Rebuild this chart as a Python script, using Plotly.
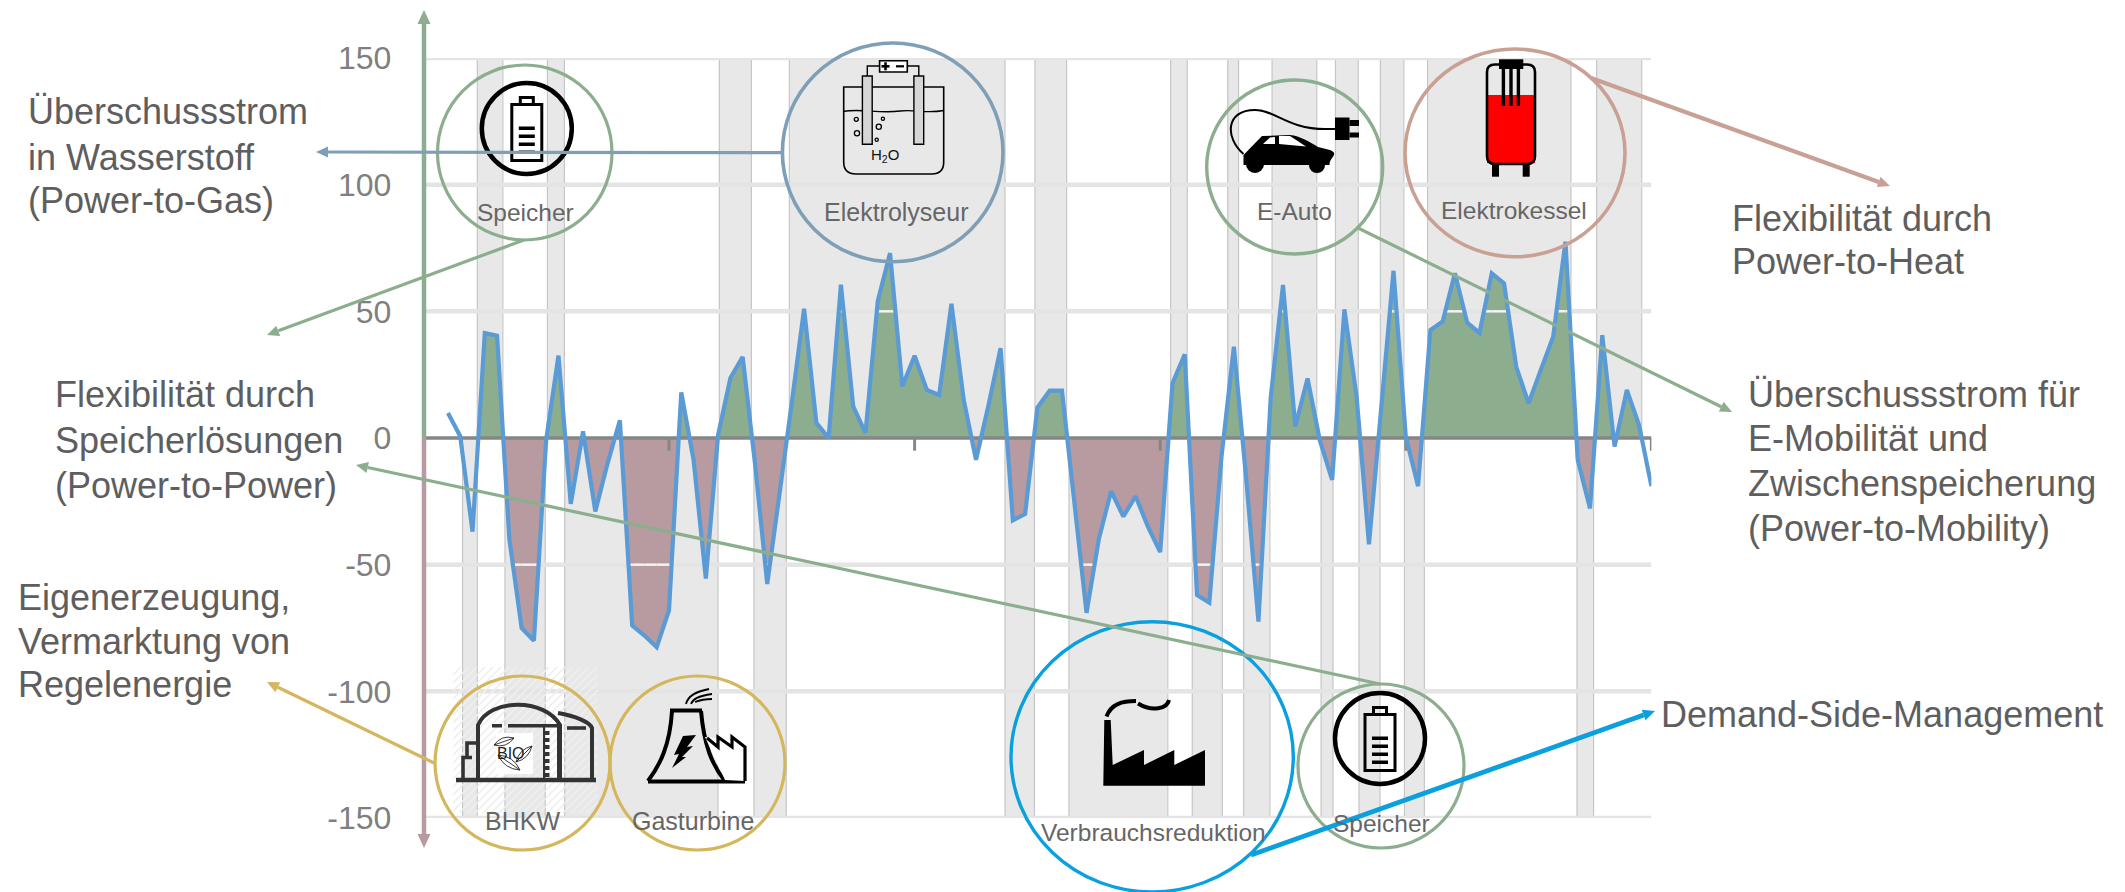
import numpy as np
import plotly.graph_objects as go

# Residual load per hour (hour 2 to hour 100)
hours = list(range(2, 101))
residual = [
    9.9, 0.7, -37, 41.4, 40.4, -40, -75, -80, -0.6, 32.5,
    -26, 2.6, -29, -10, 7, -74, -78, -82.6, -68, 18,
    -8.6, -55.5, 1.3, 23.7, 32, -10, -57.6, -22, 14, 51,
    6, 0, 60.5, 12.5, 2, 54, 73, 20.4, 32.5, 19,
    17, 53, 15, -8.6, 12.5, 35.5, -32.5, -30, 12, 18.7,
    18.7, -25, -69, -40, -21, -31, -23, -35, -45, 21.6,
    33, -62, -65, -7, 36, -16, -72.5, 16, 60.4, 4.5,
    23.5, -1, -16.5, 50.8, 16, -42, 12, 66, 0.5, -19,
    42.6, 46, 65, 45.5, 41.5, 65, 61, 28, 13.7, 27,
    40, 77.5, -8.7, -27.8, 40.6, -3.4, 19, 5, -19,
]

# Hour ranges of the surplus and deficit periods
surplus_periods = [
    (4.39, 6.47), (10.10, 11.48), (24.10, 26.71), (29.80, 47.36), (49.80, 52.38),
    (60.85, 62.20), (65.51, 66.38), (69.11, 72.75), (74.27, 76.13), (77.93, 79.84),
    (81.77, 93.45), (95.54, 99.21),
]
deficit_periods = [
    (3.19, 4.39), (6.64, 9.92), (11.51, 23.99), (26.92, 29.55), (47.36, 49.76),
    (52.57, 60.62), (62.61, 65.06), (66.80, 68.93), (73.10, 74.07), (76.19, 77.90),
    (79.89, 81.51), (93.94, 95.29),
]

y_ticks = [150, 100, 50, 0, -50, -100, -150]
y_labels = ["150", "100", "50", "0", "-50", "-100", "-150"]
x_ticks = [20, 40, 60, 80, 100]

WIDTH, HEIGHT = 2125, 892
GREEN = "#8CAE8E"
MAUVE = "#B89AA1"
STEEL = "#7F9FB6"
ROSE = "#C9A194"
GOLD = "#D4B65C"
CYAN = "#0AA0E0"
BAND = "#E8E8E8"
TEXT = "#5E5E5E"
LABEL = "#666666"
FONT = "Liberation Sans"


def with_crossings(xs, ys, level):
    """Return the polyline with extra vertices wherever it crosses level."""
    out_x, out_y = [xs[0]], [ys[0]]
    for x0, y0, x1, y1 in zip(xs, ys, xs[1:], ys[1:]):
        if (y0 - level) * (y1 - level) < 0:
            out_x.append(x0 + (level - y0) / (y1 - y0) * (x1 - x0))
            out_y.append(level)
        out_x.append(x1)
        out_y.append(y1)
    return np.array(out_x), np.array(out_y)


def beyond(xs, ys, level, sign):
    """Stretches of the line past level, as a gapped horizontal line."""
    px, py = with_crossings(xs, ys, level)
    seg_x, seg_y = [], []
    for x0, y0, x1, y1 in zip(px, py, px[1:], py[1:]):
        if sign * (y0 - level) >= 0 and sign * (y1 - level) >= 0:
            seg_x += [x0, x1, None]
            seg_y += [level, level, None]
    return seg_x, seg_y


fig = go.Figure()


def period_bars(periods, level):
    fig.add_bar(
        x=[(a + b) / 2 for a, b in periods],
        y=[level] * len(periods),
        width=[b - a for a, b in periods],
        marker=dict(color=BAND, line_width=0),
        hoverinfo="skip",
        showlegend=False,
    )
    edge_x, edge_y = [], []
    for period in periods:
        for edge in period:
            edge_x += [edge, edge, None]
            edge_y += [0, level, None]
    fig.add_scatter(x=edge_x, y=edge_y, mode="lines",
                    line=dict(color="#C6C6C6", width=1.2),
                    hoverinfo="skip", showlegend=False)


period_bars(surplus_periods, 150)
period_bars(deficit_periods, -150)

# Horizontal grid sits on the period columns
for tick in y_ticks:
    if tick != 0:
        fig.add_scatter(x=[0, 100], y=[tick, tick], mode="lines",
                        line=dict(color="#E4E4E4", width=4.5),
                        hoverinfo="skip", showlegend=False)

# Filled areas leave out the open first and last stretches of the line
line_x, line_y = with_crossings(hours, residual, 0.0)
zero_hits = np.where(line_y == 0.0)[0]
first, last = zero_hits[1], zero_hits[-1]
area_x = line_x[first:last + 1]
area_y = line_y[first:last + 1]
fig.add_scatter(x=area_x, y=np.maximum(area_y, 0), mode="lines", fill="tozeroy",
                fillcolor=GREEN, line=dict(width=0), hoverinfo="skip", showlegend=False)
fig.add_scatter(x=area_x, y=np.minimum(area_y, 0), mode="lines", fill="tozeroy",
                fillcolor=MAUVE, line=dict(width=0), hoverinfo="skip", showlegend=False)

# Grid remains visible as a pale stripe through the filled areas
for level, sign in ((50, 1), (-50, -1)):
    sx, sy = beyond(list(area_x), list(area_y), level, sign)
    fig.add_scatter(x=sx, y=sy, mode="lines", line=dict(color="#F4F4F4", width=2.5),
                    hoverinfo="skip", showlegend=False)

# Zero line with its hour ticks
fig.add_scatter(x=[0, 100], y=[0, 0], mode="lines", line=dict(color="#868686", width=3.5),
                hoverinfo="skip", showlegend=False)
tick_x, tick_y = [], []
for tick in x_ticks:
    tick_x += [tick, tick, None]
    tick_y += [0, -5, None]
fig.add_scatter(x=tick_x, y=tick_y, mode="lines", line=dict(color="#868686", width=3),
                hoverinfo="skip", showlegend=False)

fig.add_scatter(x=hours, y=residual, mode="lines",
                line=dict(color="#5B9BD5", width=4.2, simplify=False),
                hoverinfo="skip", showlegend=False)

# Pixel canvas spanning the whole page, used for the icons and callouts
fig.add_scatter(x=[0, WIDTH], y=[0, HEIGHT], xaxis="x2", yaxis="y2", mode="markers",
                marker=dict(opacity=0), hoverinfo="skip", showlegend=False)

shapes = []
notes = []


def stroke(path, color="#000000", width=3.0, fill=None):
    shapes.append(dict(type="path", path=path, xref="x2", yref="y2", layer="above",
                       line=dict(color=color, width=width),
                       fillcolor=fill if fill else "rgba(0,0,0,0)"))


def solid(path, color="#000000"):
    shapes.append(dict(type="path", path=path, xref="x2", yref="y2", layer="above",
                       line=dict(width=0), fillcolor=color))


def oval(x0, y0, x1, y1, color="#000000", width=3.0, fill=None):
    shapes.append(dict(type="circle", x0=x0, y0=y0, x1=x1, y1=y1, xref="x2", yref="y2",
                       layer="above", line=dict(color=color, width=width),
                       fillcolor=fill if fill else "rgba(0,0,0,0)"))


def box(x0, y0, x1, y1, color="#000000"):
    shapes.append(dict(type="rect", x0=x0, y0=y0, x1=x1, y1=y1, xref="x2", yref="y2",
                       layer="above", line=dict(width=0), fillcolor=color))


def poly(points):
    return "M " + " L ".join(f"{x:.1f} {y:.1f}" for x, y in points) + " Z"


def text(x, y, string, size=36, color=TEXT, anchor="left"):
    notes.append(dict(x=x, y=y, xref="x2", yref="y2", text=string, showarrow=False,
                      xanchor=anchor, yanchor="middle",
                      font=dict(family=FONT, size=size, color=color)))


def arrow(x0, y0, x1, y1, color, width=3.0, head=12.0, half=5.5):
    """Callout line ending in a small filled triangle at x1, y1."""
    length = np.hypot(x1 - x0, y1 - y0)
    ux, uy = (x1 - x0) / length, (y1 - y0) / length
    bx, by = x1 - ux * head, y1 - uy * head
    stroke(f"M {x0} {y0} L {bx:.1f} {by:.1f}", color, width)
    solid(poly([(x1, y1), (bx - uy * half, by + ux * half), (bx + uy * half, by - ux * half)]), color)


def leaf(x0, y0, x1, y1, bulge):
    """Outline of a leaf between two tips, with a midrib."""
    nx, ny = -(y1 - y0) * bulge, (x1 - x0) * bulge
    mx, my = (x0 + x1) / 2, (y0 + y1) / 2
    stroke(f"M {x0} {y0} Q {mx + nx:.1f} {my + ny:.1f} {x1} {y1} "
           f"Q {mx - nx:.1f} {my - ny:.1f} {x0} {y0} L {x1} {y1}", "#222222", 0.9)


def battery(cx, cy):
    oval(cx - 45, cy - 45.5, cx + 45, cy + 45.5, width=4.5)
    stroke(poly([(cx - 15, cy - 24), (cx + 15, cy - 24), (cx + 15, cy + 32), (cx - 15, cy + 32)]),
           width=3)
    stroke(poly([(cx - 6.5, cy - 31), (cx + 6.5, cy - 31), (cx + 6.5, cy - 24), (cx - 6.5, cy - 24)]),
           width=3)
    for dy in (0, 8, 16, 24):
        box(cx - 8, cy - 1.5 + dy - 0.5, cx + 8, cy + 2 + dy - 0.5)


# Hatched backdrop behind the CHP plant
hatch_left, hatch_right, hatch_top, hatch_bottom = 453, 598, 667, 813
hatch = []
for offset in range(hatch_left - 146, hatch_right, 8):
    x0, y0 = offset, hatch_bottom
    x1, y1 = offset + 146, hatch_top
    if x0 < hatch_left:
        y0 -= hatch_left - x0
        x0 = hatch_left
    if x1 > hatch_right:
        y1 += x1 - hatch_right
        x1 = hatch_right
    hatch.append(f"M {x0} {y0} L {x1} {y1}")
stroke(" ".join(hatch), color="#EFEFEF", width=1.6)

# Upper storage
oval(437.5, 65, 612, 240, GREEN, 3.2)
battery(526.8, 128.5)
text(525, 212, "Speicher", 24.5, LABEL, "center")

# Electrolyser
oval(782.4, 43, 1003, 261.7, STEEL, 3.6)
stroke("M 843.7 87 L 843.7 162 Q 843.7 174 856 174 L 931.7 174 Q 943.7 174 943.7 162 L 943.7 87 Z",
       width=1.6)
stroke("M 843.7 111.5 C 860 108 880 114 900 111 C 915 109 925 114 943.7 110.5", width=1.4)
for left in (862.4, 913.9):
    stroke(poly([(left, 76), (left + 9.8, 76), (left + 9.8, 144.3), (left, 144.3)]),
           width=1.4, fill="#D6D6D6")
stroke("M 867.3 76 L 867.3 66 L 879.6 66 M 907.3 66 L 918.8 66 L 918.8 76", width=1.4)
stroke(poly([(879.6, 60.7), (907.3, 60.7), (907.3, 72), (879.6, 72)]), width=1.6, fill="#FFFFFF")
box(881.5, 65, 889.5, 67.6)
box(884.2, 62.3, 886.8, 70.3)
box(896, 65.2, 904, 67.4)
for bx, by, br in ((856.3, 119.3, 2), (857, 133.3, 2.6), (878.8, 126.7, 2.6), (882.9, 118.7, 1.6), (876.7, 139.7, 1.6)):
    oval(bx - br, by - br, bx + br, by + br, width=1.3)
text(885, 155, "H<sub>2</sub>O", 15, "#111111", "center")
text(896, 212, "Elektrolyseur", 25, LABEL, "center")

# Electric car
oval(1206.7, 80, 1382.7, 254, GREEN, 3.4)
stroke("M 1243.5 154 C 1225 138 1225 110 1255 110 C 1275 110 1288 129 1325 129 L 1335 129", width=2)
solid("M 1243.5 155 L 1262 136 L 1290 135 C 1300 136 1310 142 1318 147 L 1330 150 "
      "C 1340 154 1329 158 1329.5 165 L 1243.5 165 Z")
oval(1246, 155, 1264, 173, width=0.1, fill="#000000")
oval(1309, 157, 1325, 173, width=0.1, fill="#000000")
solid(poly([(1263, 144), (1270, 137.5), (1275, 137), (1275, 144)]), "#FFFFFF")
solid(poly([(1279, 136), (1290, 136), (1306, 146.5), (1279, 144)]), "#FFFFFF")
box(1335, 117.5, 1349.5, 140)
box(1349.5, 120, 1359, 126)
box(1349.5, 132.5, 1359, 137.5)
text(1294, 211, "E-Auto", 24.5, LABEL, "center")

# Electric boiler
oval(1405, 49, 1625, 256.7, ROSE, 3.6)
box(1487, 95, 1535, 163, "#FF0000")
stroke("M 1487 72 Q 1487 64.5 1495 64.5 L 1527 64.5 Q 1535 64.5 1535 72 L 1535 156 "
       "Q 1535 164 1527 164 L 1495 164 Q 1487 164 1487 156 Z", width=2.6)
box(1499, 59.3, 1523.3, 69)
for left in (1501.7, 1509.3, 1516.7):
    box(left, 69, left + 3.4, 105.7)
box(1492, 164, 1499, 176.7)
box(1522.7, 164, 1529.7, 176.7)
text(1514, 210, "Elektrokessel", 24.5, LABEL, "center")

# CHP plant
oval(435, 676, 610, 850, GOLD, 3.2)
DARK = "#333333"
stroke("M 456 780 L 596 780", DARK, 4.5)
stroke("M 478 780 L 478 725 C 490 698 545 698 560 725 L 560 780", DARK, 4)
stroke("M 492 725.7 L 502 725.7 M 508 725.7 L 560 725.7", DARK, 3.6)
stroke("M 558 713 C 575 716 590 722 592 728 L 592 780", DARK, 4)
stroke("M 567 728 L 586 728", DARK, 3.6)
stroke("M 463 780 L 463 757.5 L 472 757.5 M 467 757 L 467 743 L 478 743", DARK, 3.6)
stroke("M 544 727 L 544 778", DARK, 2)
stroke("M 558 727 L 558 778", DARK, 2)
for step in range(7):
    box(544, 731 + step * 7, 549.5, 735 + step * 7, DARK)
box(496, 733, 533, 774, "#FFFFFF")
leaf(494, 745, 514, 738, 0.35)
leaf(516, 762, 532, 746, 0.3)
leaf(498, 755, 520, 770, 0.3)
text(511, 753, "BIO", 16, "#222222", "center")
text(522, 821, "BHKW", 25, LABEL, "center")

# Gas turbine
oval(610, 676, 785, 850, GOLD, 3.2)
stroke("M 670 710.5 L 702 710.5", width=4)
stroke("M 672 711 C 670 745 660 765 648 781", width=4)
stroke("M 701 711 C 704 745 712 765 725 781", width=4)
stroke("M 648 781.5 L 745 781.5", width=4)
solid(poly([(705, 737), (718, 738), (745, 748), (745, 781), (725, 780)]), "#FFFFFF")
stroke("M 707 738 L 718 747 L 718 737 L 732 747 L 732 737 L 745 747 L 745 781", width=3.2)
solid(poly([(683, 736), (696, 735), (687, 747), (693, 746), (682, 757), (686, 757), (672, 768),
            (679, 754), (674, 755)]))
stroke("M 686 704 C 688 696 695 692 709 689", width=1.8)
stroke("M 691 704 C 693 699 698 696 712 694", width=1.8)
stroke("M 695 702 C 700 700 705 699 712 699", width=1.8)
text(693, 821, "Gasturbine", 25, LABEL, "center")

# Demand reduction at the factory
oval(1011, 621.7, 1293.3, 892, CYAN, 3.4)
solid(poly([(1103.3, 785.7), (1205, 785.7), (1205, 750), (1174.3, 765), (1174.3, 750),
            (1144, 765), (1144, 750), (1112.7, 765), (1110.7, 720), (1104.3, 720)]))
stroke("M 1106.5 716.5 C 1111 704 1122 701 1136 701", width=4)
stroke("M 1138 703.5 C 1152 712 1167 709 1169 700", width=4)
text(1153, 832, "Verbrauchsreduktion", 24.5, LABEL, "center")

# Lower storage
oval(1298, 684, 1464, 848, GREEN, 3.2)
battery(1380, 738.5)
text(1381, 823, "Speicher", 24.5, LABEL, "center")

# Axis arrows and callouts
arrow(424, 438, 424, 10, GREEN, 4.5, 14, 6.5)
arrow(424, 438, 424, 848, MAUVE, 4.5, 14, 6.5)
arrow(782, 152.7, 316, 152, STEEL, 3.2)
arrow(524, 240, 267, 335, GREEN, 3.2)
arrow(1591, 78, 1890, 186, ROSE, 4.2)
arrow(1358, 228, 1732, 412, GREEN, 3.2)
arrow(1380, 684, 356, 465, GREEN, 3.2)
arrow(434, 763, 267, 682, GOLD, 3.2)
arrow(1251, 855, 1655, 711, CYAN, 4.8)

for x, y, string in (
    (26, 111, "Überschussstrom"), (26, 157, "in Wasserstoff"), (26, 200, "(Power-to-Gas)"),
    (1730, 218, "Flexibilität durch"), (1730, 261, "Power-to-Heat"),
    (1746, 394, "Überschussstrom für"), (1746, 438, "E-Mobilität und"),
    (1746, 483, "Zwischenspeicherung"), (1746, 528, "(Power-to-Mobility)"),
    (53, 394, "Flexibilität durch"), (53, 440, "Speicherlösungen"), (53, 485, "(Power-to-Power)"),
    (16, 597, "Eigenerzeugung,"), (16, 641, "Vermarktung von"), (16, 684, "Regelenergie"),
    (1659, 714, "Demand-Side-Management"),
):
    text(x, y, string)

fig.update_layout(
    width=WIDTH,
    height=HEIGHT,
    margin=dict(l=0, r=0, t=0, b=0, autoexpand=False),
    paper_bgcolor="#FFFFFF",
    plot_bgcolor="rgba(0,0,0,0)",
    barmode="overlay",
    bargap=0,
    showlegend=False,
    shapes=shapes,
    annotations=notes,
    xaxis=dict(domain=[423.4 / WIDTH, 1651.4 / WIDTH], range=[0, 100], visible=False, fixedrange=True),
    yaxis=dict(
        domain=[(HEIGHT - 818) / HEIGHT, (HEIGHT - 58) / HEIGHT],
        range=[-150, 150],
        tickmode="array",
        tickvals=y_ticks,
        ticktext=y_labels,
        ticklabelstandoff=31,
        ticks="",
        showgrid=False,
        zeroline=False,
        showline=False,
        fixedrange=True,
        automargin=False,
        tickfont=dict(family=FONT, size=32, color="#7F7F7F"),
    ),
    xaxis2=dict(domain=[0, 1], range=[0, WIDTH], visible=False, anchor="y2", fixedrange=True),
    yaxis2=dict(domain=[0, 1], range=[HEIGHT, 0], visible=False, anchor="x2", fixedrange=True),
)

fig.write_html("out.html", config={"displayModeBar": False})
